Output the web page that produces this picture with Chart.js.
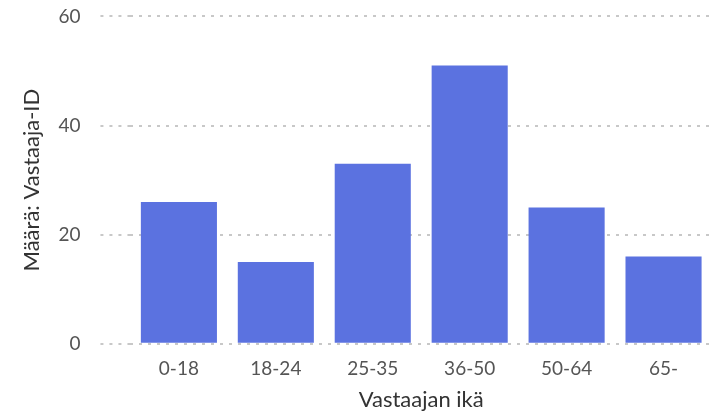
<!DOCTYPE html>
<html>
<head>
<meta charset="utf-8">
<script src="https://cdn.jsdelivr.net/npm/chart.js@4"></script>
<style>
  html, body { margin: 0; padding: 0; background: #fff; }
  #wrap { width: 721px; height: 415px; position: relative; overflow: hidden; }
  #inner { position: absolute; left: 0; top: -15px; width: 721px; height: 430px; }
</style>
</head>
<body>
<div id="wrap"><div id="inner"><canvas id="ageChart"></canvas></div></div>
<script>
const ageGroups = ['0-18', '18-24', '25-35', '36-50', '50-64', '65-'];
const respondentCounts = [26, 15, 33, 51, 25, 16];
const yTicks = [0, 20, 40, 60];

const fontFamily = 'Lato, "Open Sans", sans-serif';

(function () {
    const canvas = document.getElementById('ageChart');
    if (!canvas) return;
    const ctx = canvas.getContext('2d');

    new Chart(ctx, {
        type: 'bar',
        data: {
            labels: ageGroups,
            datasets: [{
                label: 'Määrä: Vastaaja-ID',
                data: respondentCounts,
                backgroundColor: '#5b72e0',
                borderWidth: 0,
                categoryPercentage: 1,
                barPercentage: 0.785
            }]
        },
        options: {
            responsive: true,
            maintainAspectRatio: false,
            animation: false,
            layout: { padding: { top: 0, right: 9, left: 19, bottom: 2 } },
            plugins: {
                legend: { display: false },
                tooltip: { enabled: false }
            },
            scales: {
                x: {
                    grid: { display: false },
                    border: { display: false },
                    ticks: {
                        color: '#555',
                        font: { family: fontFamily, size: 19 },
                        padding: 6
                    },
                    title: {
                        display: true,
                        text: 'Vastaajan ikä',
                        color: '#333',
                        font: { family: fontFamily, size: 22 },
                        padding: { top: 0, bottom: 0 }
                    }
                },
                y: {
                    min: 0,
                    max: 60,
                    afterBuildTicks: axis => {
                        axis.ticks = yTicks.map(v => ({ value: v }));
                    },
                    border: { display: false, dash: [3, 6] },
                    grid: {
                        color: '#c8c8c8',
                        lineWidth: 2,
                        tickLength: 30,
                        tickBorderDash: [3, 6],
                        tickColor: '#c8c8c8'
                    },
                    ticks: {
                        color: '#555',
                        font: { family: fontFamily, size: 19 },
                        padding: 20
                    },
                    title: {
                        display: true,
                        text: 'Määrä: Vastaaja-ID',
                        color: '#333',
                        font: { family: fontFamily, size: 22 },
                        padding: { top: 0, bottom: -7 }
                    }
                }
            }
        }
    });
})();
</script>
</body>
</html>
